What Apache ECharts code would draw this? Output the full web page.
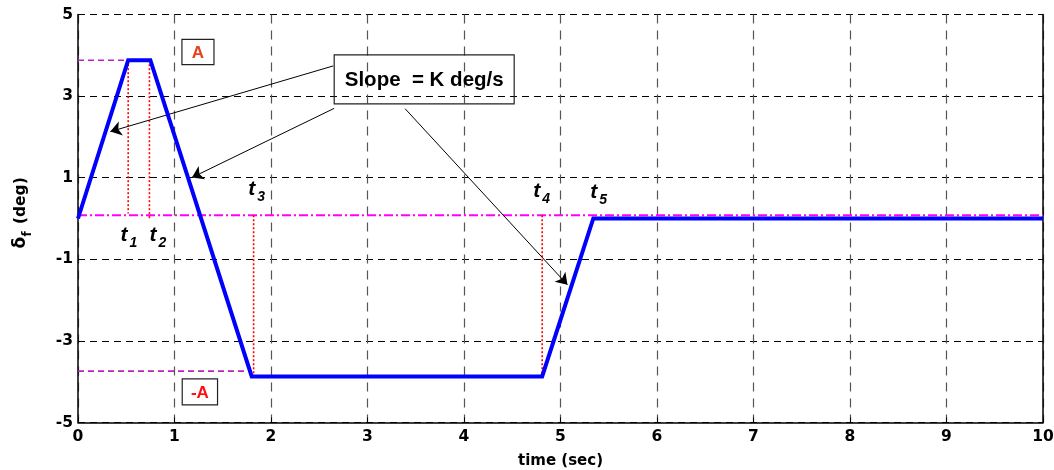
<!DOCTYPE html>
<html>
<head>
<meta charset="utf-8">
<script src="https://cdn.jsdelivr.net/npm/echarts@6/dist/echarts.min.js"></script>
<style>
  html, body { margin: 0; padding: 0; background: #fff; }
  #chart { width: 1054px; height: 470px; }
</style>
</head>
<body>
<div id="chart"></div>
<script>
// Front-wheel steering input profile: time (s) against steer angle (deg)
const timeKnots  = [0, 0.52, 0.75, 1.80, 4.81, 5.34, 10];
const deltaKnots = [0, 3.88, 3.88, -3.87, -3.87, 0, 0];

// Reference levels
const amplitudeUpper = 3.88;   // "A"
const amplitudeLower = -3.74;  // "-A"
const baseLevel = 0.08;        // dash-dot zero reference
const upperGuideEnd = 0.52;
const lowerGuideEnd = 1.80;

// Switching instants t1..t4 and the vertical span of their marker lines
const markerTimes  = [0.52, 0.74, 1.82, 4.81];
const markerTops   = [3.88, 3.88, 0.08, 0.08];
const markerBottoms = [0.12, -0.02, -3.87, -3.87];

// Axis ranges and tick steps
const xRange = [0, 10];
const xStep = 1;
const yRange = [-5, 5];
const yStep = 2;

const FONT_TICK = '"DejaVu Sans", sans-serif';
const FONT_TEXT = '"Liberation Sans", Arial, sans-serif';

const tickLabel = {
  color: '#000', fontFamily: FONT_TICK, fontWeight: 'bold', fontSize: 15.5
};

const series = [];

// dash-dot reference level
series.push({
  type: 'line', name: 'base', symbol: 'none', silent: true, z: 3,
  data: [[xRange[0], baseLevel], [xRange[1], baseLevel]],
  lineStyle: { color: '#ff00ff', width: 1.8, type: [9, 3, 2, 3] }
});
// +A guide
series.push({
  type: 'line', name: 'A', symbol: 'none', silent: true, z: 3,
  data: [[0, amplitudeUpper], [upperGuideEnd, amplitudeUpper]],
  lineStyle: { color: '#c020c0', width: 1.6, type: [6, 4] }
});
// -A guide
series.push({
  type: 'line', name: '-A', symbol: 'none', silent: true, z: 3,
  data: [[0, amplitudeLower], [lowerGuideEnd, amplitudeLower]],
  lineStyle: { color: '#c020c0', width: 1.6, type: [6, 4] }
});
// dotted switching-instant markers
markerTimes.forEach((t, i) => {
  series.push({
    type: 'line', name: 'tmark' + i, symbol: 'none', silent: true, z: 3,
    data: [[t, markerTops[i]], [t, markerBottoms[i]]],
    lineStyle: { color: '#ff0000', width: 1.6, type: [2, 2] }
  });
});
// steering profile
series.push({
  type: 'line', name: 'delta_f', symbol: 'none', z: 5,
  data: timeKnots.map((t, i) => [t, deltaKnots[i]]),
  lineStyle: { color: '#0000ff', width: 4, join: 'miter' }
});

// callout arrows pointing at the three ramps
const arrowStarts = [[2.645, 3.74], [2.655, 2.70], [3.39, 2.69]];
const arrowTips   = [[0.335, 2.13], [1.181, 1.005], [5.072, -1.625]];
series.push({
  type: 'line', name: 'callouts', data: [], z: 6,
  markLine: {
    silent: true, animation: false,
    symbol: ['none', 'arrow'], symbolSize: 11,
    label: { show: false },
    lineStyle: { color: '#000', width: 1, type: 'solid' },
    itemStyle: { color: '#000' },
    emphasis: { disabled: true },
    data: arrowStarts.map((s, i) => [{ coord: s }, { coord: arrowTips[i] }])
  }
});

const option = {
  animation: false,
  backgroundColor: '#fff',
  grid: { left: 78, right: 11, top: 14.5, bottom: 47.5, containLabel: false, outerBoundsMode: 'none' },
  xAxis: [{
    type: 'value', min: xRange[0], max: xRange[1], interval: xStep,
    axisLine: { show: true, onZero: false, lineStyle: { color: '#000', width: 1.5 } },
    axisTick: { show: true, inside: true, length: 5, lineStyle: { color: '#000' } },
    axisLabel: Object.assign({ margin: 6 }, tickLabel),
    splitLine: { show: true, lineStyle: { color: '#555', width: 1.2, type: [9, 7] } },
    name: 'time (sec)', nameLocation: 'middle', nameGap: 31,
    nameTextStyle: { color: '#000', fontFamily: FONT_TICK, fontWeight: 'bold', fontSize: 15 }
  }],
  yAxis: [{
    type: 'value', min: yRange[0], max: yRange[1], interval: yStep,
    axisLine: { show: true, onZero: false, lineStyle: { color: '#000', width: 1.5 } },
    axisTick: { show: true, inside: true, length: 5, lineStyle: { color: '#000' } },
    axisLabel: Object.assign({ margin: 5 }, tickLabel),
    splitLine: { show: true, lineStyle: { color: '#000', width: 1, type: [7, 5] } }
  }, {
    type: 'value', min: yRange[0], max: yRange[1], interval: yStep, position: 'right',
    axisLine: { show: true, onZero: false, lineStyle: { color: '#000', width: 1.5 } },
    axisTick: { show: true, inside: true, length: 5, lineStyle: { color: '#000' } },
    axisLabel: { show: false },
    splitLine: { show: false }
  }],
  series: series
};

const chart = echarts.init(document.getElementById('chart'));
chart.setOption(option);

const toPx = p => chart.convertToPixel({ gridIndex: 0 }, p);

// annotation boxes: [x0, x1, yTop, yBottom] in axis units
const boxes = [
  { text: 'Slope  = K deg/s', area: [2.655, 4.52, 4.01, 2.81], color: '#000', size: 20.5 },
  { text: 'A', area: [1.077, 1.409, 4.39, 3.77], color: '#e8401c', size: 17 },
  { text: '-A', area: [1.08, 1.446, -3.93, -4.57], color: '#ff1010', size: 17 }
];

// instant labels t1..t5, anchored at the left/middle of the "t"
const instantNames = ['1', '2', '3', '4', '5'];
const instantAnchors = [[0.44, -0.41], [0.74, -0.41], [1.765, 0.73], [4.717, 0.667], [5.308, 0.655]];

const graphics = [];

boxes.forEach(b => {
  const p0 = toPx([b.area[0], b.area[2]]);
  const p1 = toPx([b.area[1], b.area[3]]);
  graphics.push({
    type: 'rect', z: 20, silent: true,
    shape: { x: p0[0], y: p0[1], width: p1[0] - p0[0], height: p1[1] - p0[1] },
    style: { fill: null, stroke: '#222', lineWidth: 1.2 }
  });
  graphics.push({
    type: 'text', z: 21, silent: true,
    x: (p0[0] + p1[0]) / 2, y: (p0[1] + p1[1]) / 2 + 1,
    style: {
      text: b.text, fill: b.color, align: 'center', verticalAlign: 'middle',
      font: 'bold ' + b.size + 'px ' + FONT_TEXT
    }
  });
});

instantAnchors.forEach((a, i) => {
  const p = toPx(a);
  graphics.push({
    type: 'text', z: 21, silent: true, x: p[0], y: p[1],
    style: {
      text: 't', fill: '#000', align: 'left', verticalAlign: 'middle',
      font: 'italic bold 21px ' + FONT_TEXT
    }
  });
  graphics.push({
    type: 'text', z: 21, silent: true, x: p[0] + 9, y: p[1] + 8,
    style: {
      text: instantNames[i], fill: '#000', align: 'left', verticalAlign: 'middle',
      font: 'italic bold 14px ' + FONT_TEXT
    }
  });
});

// vertical axis title: delta with subscript f
const yTitleMid = toPx([0, 0])[1];
graphics.push({
  type: 'group', x: 21, y: yTitleMid + 30, rotation: Math.PI / 2, silent: true,
  children: [
    { type: 'text', x: 0, y: 0, style: { text: 'δ', fill: '#000', align: 'left', verticalAlign: 'middle', font: 'bold 17px ' + FONT_TICK } },
    { type: 'text', x: 12, y: 7, style: { text: 'f', fill: '#000', align: 'left', verticalAlign: 'middle', font: 'bold 12px ' + FONT_TICK } },
    { type: 'text', x: 19, y: 0, style: { text: ' (deg)', fill: '#000', align: 'left', verticalAlign: 'middle', font: 'bold 15.5px ' + FONT_TICK } }
  ]
});

chart.setOption({ graphic: graphics });
</script>
</body>
</html>
